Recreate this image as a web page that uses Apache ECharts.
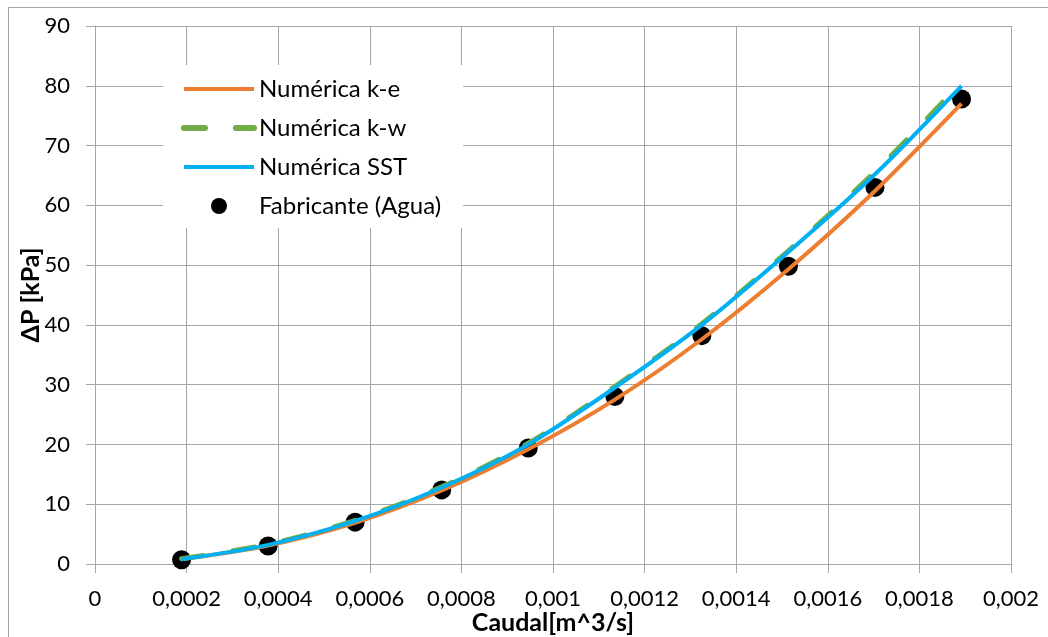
<!DOCTYPE html>
<html>
<head>
<meta charset="utf-8">
<script src="https://cdn.jsdelivr.net/npm/echarts@6/dist/echarts.min.js"></script>
<style>
  html, body { margin: 0; padding: 0; background: #fff; overflow: hidden; }
  .wrap { position: relative; width: 1048px; height: 637px; overflow: hidden; }
  #chart { width: 1048px; height: 637px; }
  .frame { position: absolute; left: 8px; top: 7px; width: 1060px; height: 700px; border: 1px solid #a6a6a6; pointer-events: none; }
</style>
</head>
<body>
<div class="wrap">
  <div id="chart"></div>
  <div class="frame"></div>
</div>
<script>
// caudal [m^3/s]
var caudal = [0.000189, 0.000378, 0.000568, 0.000757, 0.000946, 0.001135, 0.001325, 0.001514, 0.001703, 0.001892];
// presion [kPa]
var fabricante = [0.7, 3.0, 7.0, 12.4, 19.4, 28.0, 38.2, 49.8, 63.0, 77.8];
var numKe = [0.8, 3.1, 6.9, 12.3, 19.2, 27.5, 37.6, 49.3, 62.4, 77.0];
var numKw = [0.9, 3.3, 7.3, 12.9, 20.2, 29.7, 40.2, 52.4, 65.6, 80.6];
var numSst = [0.8, 3.2, 7.2, 12.8, 20.0, 29.5, 40.0, 52.2, 65.2, 80.0];

function pares(ys) {
  var out = [];
  for (var i = 0; i < caudal.length; i++) {
    out.push([caudal[i], ys[i]]);
  }
  return out;
}

var font = 'Lato, "Open Sans", sans-serif';
var gris = '#a6a6a6';

var myChart = echarts.init(document.getElementById('chart'));
var option = {
  animation: false,
  grid: { left: 95, right: 37, top: 26, bottom: 73, outerBoundsMode: 'none', containLabel: false },
  legend: {
    orient: 'vertical',
    left: 163,
    top: 65,
    padding: [12, 22, 10, 18],
    backgroundColor: '#fff',
    itemWidth: 70,
    itemHeight: 16,
    itemGap: 15,
    textStyle: { fontFamily: font, fontSize: 24, color: '#000' },
    data: [
      { name: 'Numérica k-e', itemStyle: { opacity: 0 }, lineStyle: { width: 4, color: '#ED7D31' } },
      { name: 'Numérica k-w', itemStyle: { opacity: 0 }, lineStyle: { width: 6, color: '#70AD47', type: [21, 31], cap: 'round' } },
      { name: 'Numérica SST', itemStyle: { opacity: 0 }, lineStyle: { width: 4, color: '#00B0F0' } },
      { name: 'Fabricante (Agua)', itemStyle: { color: '#000', opacity: 1 } }
    ]
  },
  xAxis: {
    type: 'value',
    min: 0,
    max: 0.002,
    interval: 0.0002,
    name: 'Caudal[m^3/s]',
    nameLocation: 'middle',
    nameGap: 46,
    nameMoveOverlap: false,
    nameTextStyle: { fontFamily: font, fontSize: 25, fontWeight: 'bold', color: '#000', verticalAlign: 'top' },
    axisLine: { lineStyle: { color: gris } },
    axisTick: { show: true, length: 9, lineStyle: { color: gris } },
    axisLabel: {
      fontFamily: font, fontSize: 22, color: '#000', margin: 24,
      formatter: function (v) { return String(Number(v.toPrecision(6))).replace('.', ','); }
    },
    splitLine: { show: true, lineStyle: { color: gris } }
  },
  yAxis: {
    type: 'value',
    min: 0,
    max: 90,
    interval: 10,
    name: 'ΔP [kPa]',
    nameLocation: 'middle',
    nameGap: 52,
    nameMoveOverlap: false,
    nameTextStyle: { fontFamily: font, fontSize: 25, fontWeight: 'bold', color: '#000' },
    axisLine: { show: true, lineStyle: { color: gris } },
    axisTick: { show: true, length: 9, lineStyle: { color: gris } },
    axisLabel: { fontFamily: font, fontSize: 22, color: '#000', margin: 25 },
    splitLine: { show: true, lineStyle: { color: gris } }
  },
  series: [
    {
      name: 'Numérica k-e',
      type: 'line',
      data: pares(numKe),
      smooth: 0.3,
      symbol: 'none',
      color: '#ED7D31',
      lineStyle: { width: 4, color: '#ED7D31' }
    },
    {
      name: 'Numérica k-w',
      type: 'line',
      data: pares(numKw),
      smooth: 0.3,
      symbol: 'none',
      color: '#70AD47',
      lineStyle: { width: 5, color: '#70AD47', type: [22, 30], cap: 'round' }
    },
    {
      name: 'Numérica SST',
      type: 'line',
      data: pares(numSst),
      smooth: 0.3,
      symbol: 'none',
      color: '#00B0F0',
      lineStyle: { width: 4, color: '#00B0F0' }
    },
    {
      name: 'Fabricante (Agua)',
      type: 'scatter',
      data: pares(fabricante),
      symbol: 'circle',
      symbolSize: 19,
      color: '#000',
      itemStyle: { color: '#000', opacity: 1 }
    }
  ]
};

option && myChart.setOption(option);
</script>
</body>
</html>
